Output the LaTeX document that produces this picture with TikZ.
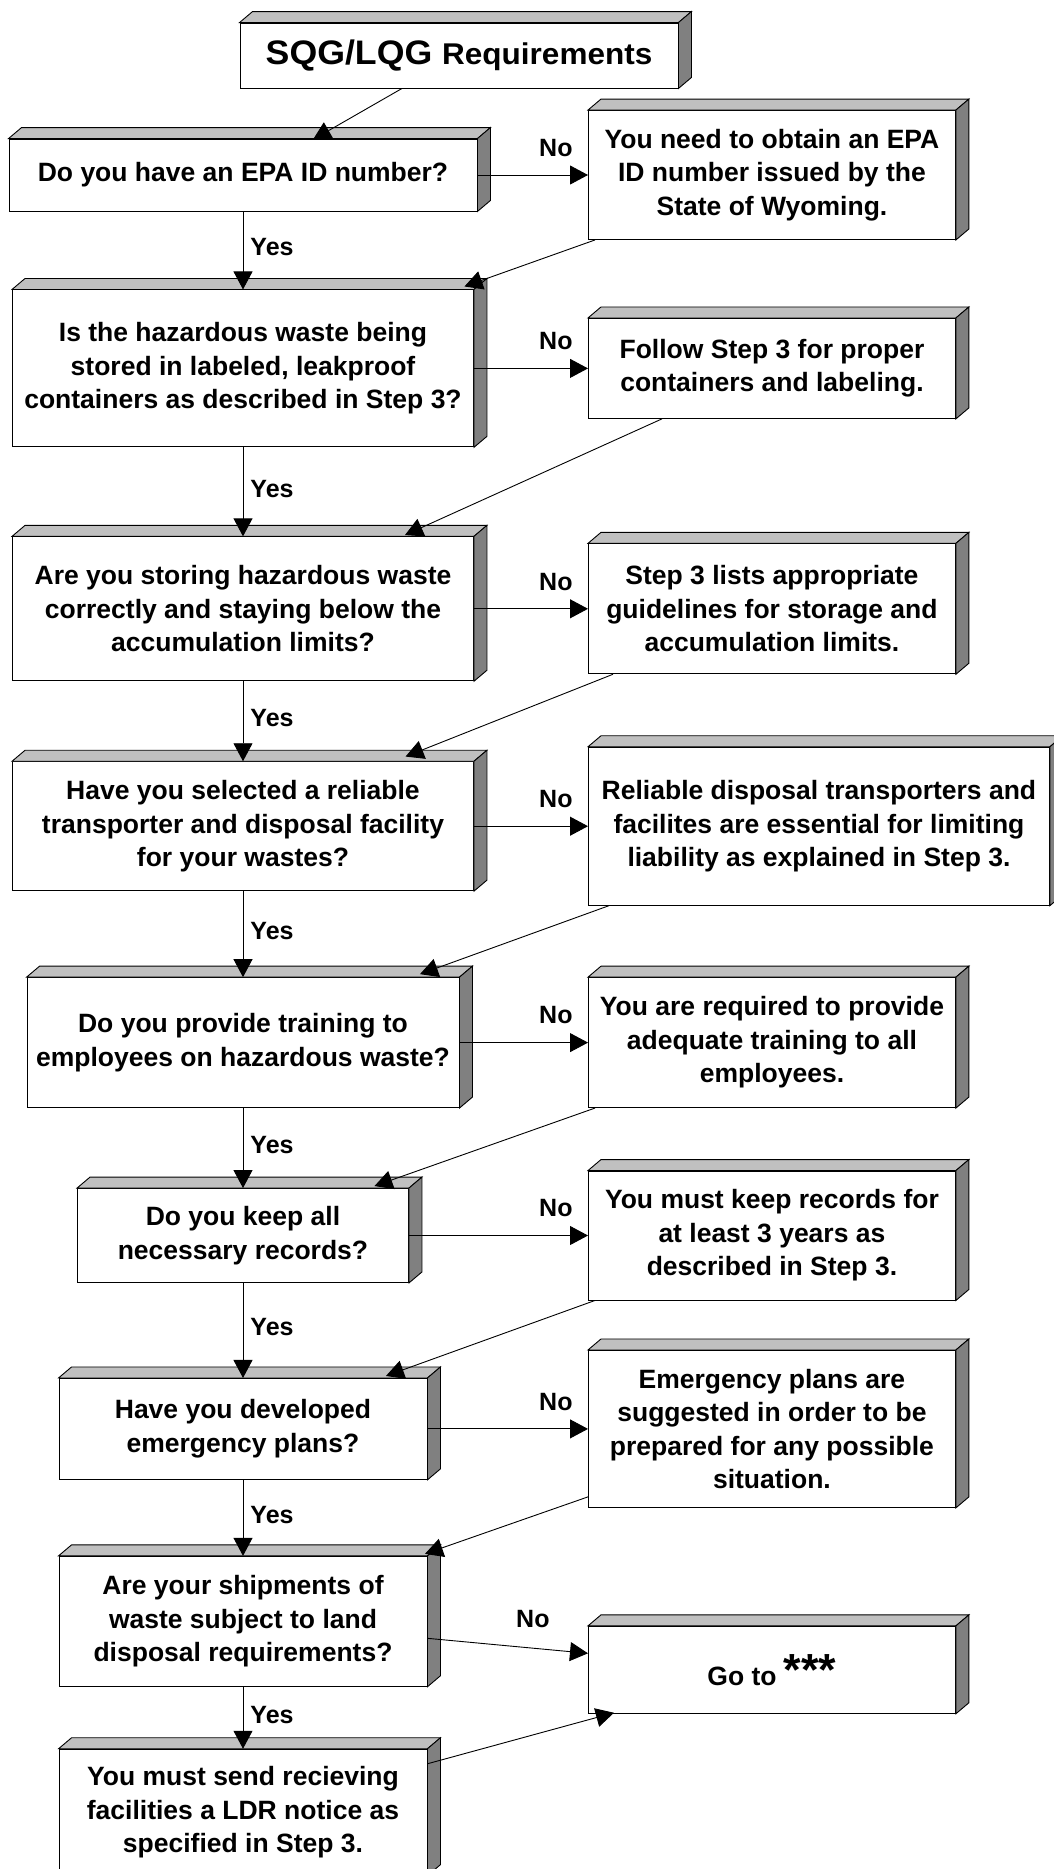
\documentclass[tikz,border=0pt]{standalone}
\usepackage{fontspec}
\setmainfont{Liberation Sans}
\newfontfamily\titlefont{Liberation Sans}[FakeStretch=1.05]
\usetikzlibrary{arrows.meta,positioning}
\definecolor{boxtop}{HTML}{C0C0C0}
\definecolor{boxside}{HTML}{808080}
\newcommand{\bodyfont}{\fontsize{26.5}{33.5}\selectfont\bfseries}
\newcommand{\labelfont}{\fontsize{25}{30}\selectfont\bfseries}
\tikzset{
  block/.style={draw=black,fill=white,line width=0.9pt,align=center,
                inner sep=0pt,font=\bodyfont},
  face/.style={draw=black,line width=0.9pt},
  flow/.style={-{Triangle[length=18pt,width=19pt]},draw=black,line width=0.9pt},
  yeslbl/.style={font=\labelfont,inner sep=0pt,anchor=west,xshift=7pt,yshift=3pt},
  nolbl/.style={font=\labelfont,inner sep=0pt,anchor=south east,pos=1,
                xshift=-15pt,yshift=18pt}
}
\newcommand{\boxdepth}[1]{%
  \draw[face,fill=boxtop] (#1.north west) -- ++(13pt,11pt)
    -- ([shift={(13pt,11pt)}]#1.north east) -- (#1.north east) -- cycle;
  \draw[face,fill=boxside] (#1.north east) -- ++(13pt,11pt)
    -- ([shift={(13pt,11pt)}]#1.south east) -- (#1.south east) -- cycle;
}

\begin{document}
\begin{tikzpicture}[
  x=1pt,y=-1pt,
  question/.style={block},
  answer/.style={block,anchor=west},
  header/.style={block,font=\titlefont\bfseries}
]
  \useasboundingbox (0,0) rectangle (1053,1869);
  \node[header,minimum width=438pt,minimum height=65pt] (title) at (459,55.5)
    {\fontsize{34}{36}\selectfont SQG/LQG \fontsize{30}{36}\selectfont Requirements};
  \node[question,minimum width=468pt,minimum height=72pt] (q1) at (243,175)
    {Do you have an EPA ID number?};
  \node[question,minimum width=461pt,minimum height=157pt,below=78pt of q1] (q2)
    {Is the hazardous waste being\\stored in labeled, leakproof\\containers as described in Step 3?};
  \node[question,minimum width=461pt,minimum height=144pt,below=89pt of q2] (q3)
    {Are you storing hazardous waste\\correctly and staying below the\\accumulation limits?};
  \node[question,minimum width=461pt,minimum height=129pt,below=80pt of q3] (q4)
    {Have you selected a reliable\\transporter and disposal facility\\for your wastes?};
  \node[question,minimum width=432pt,minimum height=130pt,below=86pt of q4] (q5)
    {Do you provide training to\\employees on hazardous waste?};
  \node[question,minimum width=331pt,minimum height=94pt,below=80pt of q5] (q6)
    {Do you keep all\\necessary records?};
  \node[question,minimum width=368pt,minimum height=101pt,below=95pt of q6] (q7)
    {Have you developed\\emergency plans?};
  \node[question,minimum width=368pt,minimum height=130pt,below=76pt of q7] (q8)
    {Are your shipments of\\waste subject to land\\disposal requirements?};
  \node[question,minimum width=368pt,minimum height=126pt,below=62pt of q8] (q9)
    {You must send recieving\\facilities a LDR notice as\\specified in Step 3.};
  \coordinate (acol) at (588,0);
  \node[answer,minimum width=367pt,minimum height=129pt] (a1) at (acol |- q1)
    {You need to obtain an EPA\\ID number issued by the\\State of Wyoming.};
  \node[answer,minimum width=367pt,minimum height=100pt] (a2) at (acol |- q2)
    {Follow Step 3 for proper\\containers and labeling.};
  \node[answer,minimum width=367pt,minimum height=130pt] (a3) at (acol |- q3)
    {Step 3 lists appropriate\\guidelines for storage and\\accumulation limits.};
  \node[answer,minimum width=461pt,minimum height=158pt] (a4) at (acol |- q4)
    {Reliable disposal transporters and\\facilites are essential for limiting\\liability as explained in Step 3.};
  \node[answer,minimum width=367pt,minimum height=130pt] (a5) at (acol |- q5)
    {You are required to provide\\adequate training to all\\employees.};
  \node[answer,minimum width=367pt,minimum height=129pt] (a6) at (acol |- q6)
    {You must keep records for\\at least 3 years as\\described in Step 3.};
  \node[answer,minimum width=367pt,minimum height=157pt] (a7) at (acol |- q7)
    {Emergency plans are\\suggested in order to be\\prepared for any possible\\situation.};
  \node[answer,minimum width=367pt,minimum height=87pt] (a8) at ([yshift=-48.5pt]acol |- q8)
    {Go to {\fontsize{45}{45}\selectfont ***}};
  \foreach \n in {title,q1,q2,q3,q4,q5,q6,q7,q8,q9,a1,a2,a3,a4,a5,a6,a7,a8}
    \boxdepth{\n};
  \foreach \a/\b in {q1/q2,q2/q3,q3/q4,q4/q5,q5/q6,q6/q7,q7/q8,q8/q9}
    \draw[flow] (\a) -- node[yeslbl] {Yes} (\b);
  \foreach \a/\b in {q1/a1,q2/a2,q3/a3,q4/a4,q5/a5,q6/a6,q7/a7}
    \draw[flow] (\a) -- node[nolbl] {No} (\b);
  \draw[flow] ([yshift=-17pt]q8.east) -- node[nolbl,xshift=-23pt,yshift=7pt] {No}
    ([yshift=16.5pt]a8.west);
  \draw[flow] ([xshift=-57pt]title.south) -- ([shift={(70pt,-1pt)}]q1.north);
  \draw[flow] ([xshift=7pt]a1.south west) -- ([shift={(-9.5pt,3pt)}]q2.north east);
  \draw[flow] ([xshift=74pt]a2.south west) -- ([shift={(-69pt,1.3pt)}]q3.north east);
  \draw[flow] ([xshift=25pt]a3.south west) -- ([shift={(-68.4pt,4.7pt)}]q4.north east);
  \draw[flow] ([xshift=21pt]a4.south west) -- ([shift={(-39.5pt,3pt)}]q5.north east);
  \draw[flow] ([xshift=7pt]a5.south west) -- ([shift={(-34.5pt,2pt)}]q6.north east);
  \draw[flow] ([xshift=7pt]a6.south west) -- ([shift={(-41.5pt,2pt)}]q7.north east);
  \draw[flow] ([yshift=11pt]a7.south west) -- ([shift={(-2.5pt,2pt)}]q8.north east);
  \draw[flow] ([yshift=-15pt]q9.north east) -- ([shift={(26pt,1pt)}]a8.south west);
\end{tikzpicture}
\end{document}
